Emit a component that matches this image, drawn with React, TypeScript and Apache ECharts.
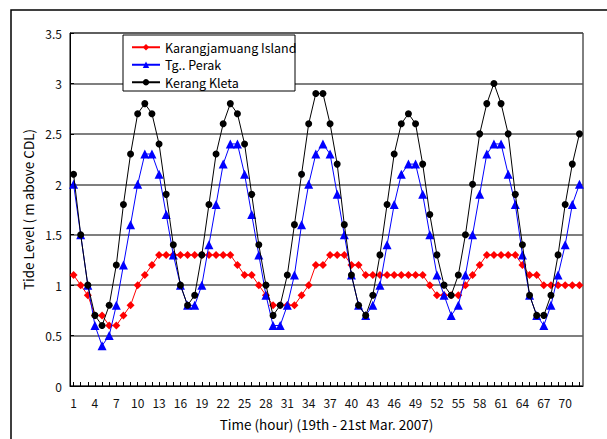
import React, { useEffect, useRef } from "react";
import * as echarts from "echarts";

const hours: string[] = Array.from({ length: 72 }, (_, i) => String(i + 1));

const karangjamuang: number[] = [
  1.1, 1.0, 0.9, 0.7, 0.7, 0.6, 0.6, 0.7, 0.8, 1.0, 1.1, 1.2, 1.3,
  1.3, 1.3, 1.3, 1.3, 1.3, 1.3, 1.3, 1.3, 1.3, 1.3,
  1.2, 1.1, 1.1, 1.0, 0.9,
  0.8, 0.8, 0.8, 0.8,
  0.9, 1.0, 1.2, 1.2, 1.3, 1.3, 1.3,
  1.2, 1.2, 1.1,
  1.1, 1.1, 1.1, 1.1, 1.1, 1.1, 1.1, 1.1,
  1.0, 0.9, 0.9, 0.9, 0.9,
  1.0, 1.1, 1.2,
  1.3, 1.3, 1.3, 1.3, 1.3,
  1.2, 1.1, 1.1,
  1.0, 1.0, 1.0, 1.0, 1.0, 1.0,
];

const tgPerak: number[] = [
  2.0, 1.5, 1.0, 0.6, 0.4, 0.5, 0.8, 1.2, 1.6, 2.0,
  2.3, 2.3, 2.1, 1.7, 1.3, 1.0, 0.8, 0.8, 1.0, 1.4,
  1.8, 2.2, 2.4, 2.4, 2.1, 1.7, 1.3, 0.9, 0.6, 0.6,
  0.8, 1.1, 1.6, 2.0, 2.3, 2.4, 2.3, 1.9, 1.5, 1.1,
  0.8, 0.7, 0.8, 1.0, 1.4, 1.8, 2.1, 2.2, 2.2, 1.9,
  1.5, 1.1, 0.9, 0.7, 0.8, 1.1, 1.5, 1.9, 2.3, 2.4,
  2.4, 2.1, 1.8, 1.3, 0.9, 0.7, 0.6, 0.8, 1.1, 1.4,
  1.8, 2.0,
];

const kerangKleta: number[] = [
  2.1, 1.5, 1.0, 0.7, 0.6, 0.8, 1.2, 1.8, 2.3, 2.7,
  2.8, 2.7, 2.4, 1.9, 1.4, 1.0, 0.8, 0.9, 1.3, 1.8,
  2.3, 2.6, 2.8, 2.7, 2.4, 1.9, 1.4, 1.0, 0.7, 0.8,
  1.1, 1.6, 2.1, 2.6, 2.9, 2.9, 2.6, 2.2, 1.6, 1.1,
  0.8, 0.7, 0.9, 1.3, 1.8, 2.3, 2.6, 2.7, 2.6, 2.2,
  1.7, 1.3, 1.0, 0.9, 1.1, 1.5, 2.0, 2.5, 2.8, 3.0,
  2.8, 2.5, 1.9, 1.4, 0.9, 0.7, 0.7, 0.9, 1.3, 1.8,
  2.2, 2.5,
];

const FONT = "'Noto Sans CJK JP', 'Liberation Sans', sans-serif";

export default function App() {
  const ref = useRef<HTMLDivElement>(null);
  useEffect(() => {
    if (!ref.current) return;
    const chart = echarts.init(ref.current, undefined, { renderer: "svg" });
    chart.setOption({
      animation: false,
      backgroundColor: "#ffffff",
      textStyle: { fontFamily: FONT },
      grid: {
        left: 70,
        top: 33,
        right: 24,
        bottom: 53,
        show: true,
        borderColor: "#000",
        borderWidth: 1,
      },
      graphic: [
        {
          type: "rect",
          shape: { x: 11, y: 10, width: 700, height: 600 },
          style: { fill: "none", stroke: "#000", lineWidth: 1.5 },
          silent: true,
        },
        {
          type: "rect",
          shape: { x: 123, y: 35, width: 172, height: 56 },
          style: { fill: "#fff", stroke: "#000", lineWidth: 1 },
          z: 10,
          silent: true,
        },
      ],
      legend: {
        orient: "vertical",
        left: 126,
        top: 36,
        itemWidth: 28,
        itemHeight: 8,
        itemGap: 5,
        z: 20,
        textStyle: { fontFamily: FONT, fontSize: 12.5, color: "#000" },
        data: ["Karangjamuang Island", "Tg.. Perak", "Kerang Kleta"],
      },
      xAxis: {
        type: "category",
        data: hours,
        boundaryGap: true,
        name: "Time (hour) (19th - 21st Mar. 2007)",
        nameLocation: "middle",
        nameGap: 31,
        nameTextStyle: { fontFamily: FONT, fontSize: 13.5, color: "#000" },
        axisLine: { lineStyle: { color: "#000", width: 1 } },
        axisTick: { show: true, inside: true, length: 4, interval: 0, alignWithLabel: true, lineStyle: { color: "#000" } },
        axisLabel: { interval: 2, fontFamily: FONT, fontSize: 12, color: "#111", margin: 10 },
        splitLine: { show: false },
      },
      yAxis: {
        type: "value",
        min: 0,
        max: 3.5,
        interval: 0.5,
        name: "Tide Level ( m above CDL)",
        nameLocation: "middle",
        nameGap: 34,
        nameRotate: 90,
        nameTextStyle: { fontFamily: FONT, fontSize: 13.5, color: "#000" },
        axisLine: { show: true, lineStyle: { color: "#000", width: 1 } },
        axisTick: { show: true, inside: true, length: 4, lineStyle: { color: "#000" } },
        axisLabel: { fontFamily: FONT, fontSize: 12, color: "#111", margin: 8 },
        splitLine: { show: true, lineStyle: { color: "#555", width: 1.5 } },
      },
      series: [
        {
          name: "Karangjamuang Island",
          type: "line",
          data: karangjamuang,
          symbol: "diamond",
          symbolSize: 8,
          showAllSymbol: true,
          itemStyle: { color: "#ff0000" },
          lineStyle: { color: "#ff0000", width: 1 },
          z: 3,
        },
        {
          name: "Tg.. Perak",
          type: "line",
          data: tgPerak,
          symbol: "triangle",
          symbolSize: 9,
          showAllSymbol: true,
          itemStyle: { color: "#0000ff" },
          lineStyle: { color: "#0000ff", width: 1 },
          z: 4,
        },
        {
          name: "Kerang Kleta",
          type: "line",
          data: kerangKleta,
          symbol: "circle",
          symbolSize: 7,
          showAllSymbol: true,
          itemStyle: { color: "#000000" },
          lineStyle: { color: "#000000", width: 1 },
          z: 5,
        },
      ],
    });
    return () => chart.dispose();
  }, []);
  return (
    <div
      ref={ref}
      style={{ position: "absolute", left: 0, top: 0, width: 607, height: 439 }}
    />
  );
}
